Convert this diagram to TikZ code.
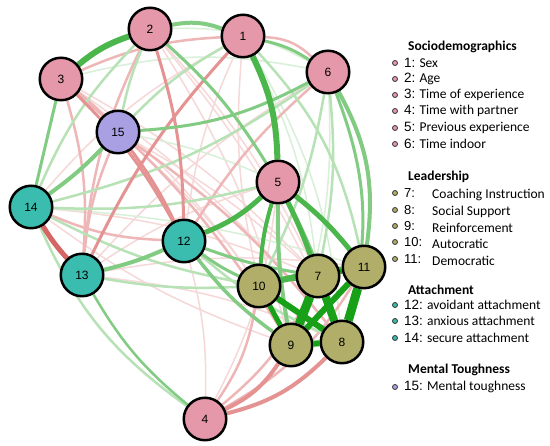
\documentclass[tikz,border=0pt]{standalone}
\usepackage{fontspec}
\setmainfont{Carlito}
\newfontfamily\arialf{Liberation Sans}
\usetikzlibrary{backgrounds}
\definecolor{gA}{RGB}{25,160,25}
\definecolor{gB}{RGB}{75,182,75}
\definecolor{gC}{RGB}{130,203,130}
\definecolor{gD}{RGB}{182,226,182}
\definecolor{gE}{RGB}{216,239,216}
\definecolor{rA}{RGB}{214,102,102}
\definecolor{rB}{RGB}{228,146,146}
\definecolor{rC}{RGB}{238,182,182}
\definecolor{rD}{RGB}{246,216,216}
\definecolor{cpink}{RGB}{229,152,169}
\definecolor{cteal}{RGB}{58,189,175}
\definecolor{colive}{RGB}{176,174,104}
\definecolor{clav}{RGB}{169,160,228}
\begin{document}
\begin{tikzpicture}[x=1pt,y=1pt,
  nd/.style={circle,draw=black,line width=2.5pt,minimum size=42.5pt,inner sep=0pt,font=\arialf\fontsize{12}{12}\selectfont},
  bul/.style={circle,draw=black!80,line width=0.8pt,minimum size=5pt,inner sep=0pt},
  ttl/.style={anchor=west,inner sep=0pt,font=\bfseries\fontsize{13.5}{14}\selectfont},
  num/.style={anchor=west,inner sep=0pt,font=\arialf\fontsize{13}{14}\selectfont},
  itm/.style={anchor=west,inner sep=0pt,font=\fontsize{13.5}{14}\selectfont}]
\useasboundingbox (0,0) rectangle (550,446);
% nodes
\node[nd,fill=cpink] (n1) at (243,410) {1};
\node[nd,fill=cpink] (n2) at (150,417) {2};
\node[nd,fill=cpink] (n3) at (61,367) {3};
\node[nd,fill=cpink] (n4) at (205,27) {4};
\node[nd,fill=cpink] (n5) at (278,264) {5};
\node[nd,fill=cpink] (n6) at (328,374) {6};
\node[nd,fill=colive] (n10) at (259,160) {10};
\node[nd,fill=colive] (n9) at (291,101) {9};
\node[nd,fill=colive] (n8) at (342,104) {8};
\node[nd,fill=colive] (n7) at (318,170) {7};
\node[nd,fill=colive] (n11) at (364,179) {11};
\node[nd,fill=cteal] (n12) at (184,205) {12};
\node[nd,fill=cteal] (n13) at (82,171) {13};
\node[nd,fill=cteal] (n14) at (31,239) {14};
\node[nd,fill=clav] (n15) at (118,314) {15};
\begin{scope}[on background layer]
\fill[white] (0,0) rectangle (550,446);
% very light red
\begin{scope}[rD,line width=1.5pt]
\draw (n4) to[bend right=8] (n12);
\draw (n4) to[bend right=10] (n5);
\draw (n13) to[bend left=8] (n5);
\draw (n13) to[bend left=8] (n8);
\draw (n13) to[bend left=8] (n11);
\draw (n14) to[bend left=8] (n7);
\draw (n14) to[bend right=8] (n9);
\draw (n3) to[bend left=8] (n8);
\draw (n3) to[bend left=8] (n10);
\draw (n3) to[bend left=8] (n7);
\draw (n15) to[bend left=6] (n10);
\draw (n15) to[bend left=6] (n7);
\draw (n2) to[bend left=8] (n7);
\draw (n2) to[bend left=8] (n9);
\draw (n2) to[bend left=8] (n8);
\draw (n1) to[bend right=8] (n10);
\draw (n1) to[bend right=8] (n12);
\draw (n6) to[bend right=8] (n13);
\draw (n1) to[bend right=10] (n14);
\end{scope}
% very light green
\begin{scope}[gE,line width=1.5pt]
\draw (n6) to[bend left=10] (n9);
\draw (n1) to[bend left=12] (n8);
\draw (n1) to[bend left=10] (n7);
\draw (n2) to[bend left=15] (n6);
\draw (n3) to[bend left=12] (n6);
\draw (n14) to[bend left=6] (n11);
\draw (n15) to[bend left=6] (n5);
\end{scope}
% light red
\begin{scope}[rC,line width=2.5pt]
\draw (n2) to[bend right=10] (n13);
\draw (n3) to[bend left=10] (n13);
\draw (n3) to[bend left=8] (n9);
\draw (n15) to[bend right=8] (n13);
\draw (n14) to[bend right=10] (n12);
\draw (n4) to[bend right=12] (n10);
\draw (n4) to[bend right=12] (n7);
\draw (n4) to[bend right=14] (n11);
\draw (n6) to[bend right=8] (n12);
\draw (n1) to[bend right=10] (n3);
\draw (n1) to[bend left=20] (n6);
\draw (n3) to[bend left=5] (n15);
\draw (n15) to[bend left=8] (n8);
\end{scope}
% light green
\begin{scope}[gD,line width=2.5pt]
\draw (n14) to[bend left=10] (n2);
\draw (n14) to[bend right=10] (n6);
\draw (n14) to[bend right=8] (n10);
\draw (n14) to[bend right=8] (n5);
\draw (n14) to[bend right=15] (n4);
\draw (n6) to[bend left=8] (n7);
\draw (n6) to[bend left=8] (n10);
\draw (n12) to[bend right=8] (n8);
\draw (n2) to[bend right=5] (n15);
\draw (n1) to[bend right=8] (n15);
\draw (n1) to[bend left=15] (n11);
\draw (n13) to[bend right=6] (n10);
\end{scope}
% medium red
\begin{scope}[rB,line width=3pt]
\draw (n3) to[bend left=8] (n12);
\draw (n15) to[bend left=5] (n12);
\draw (n2) to[bend left=8] (n12);
\draw (n1) to[bend right=8] (n13);
\draw[line width=4pt] (n4) to[bend right=15] (n9);
\draw[line width=4pt] (n4) to[bend right=15] (n8);
\end{scope}
% medium green
\begin{scope}[gC,line width=3pt]
\draw[line width=4pt] (n2) to[bend left=15] (n1);
\draw (n1) to[bend left=10] (n6);
\draw (n15) to[bend right=12] (n6);
\draw[line width=4pt] (n6) to[bend left=18] (n11);
\draw (n6) to[bend left=18] (n8);
\draw[line width=4pt] (n14) to[bend right=5] (n15);
\draw (n14) to (n3);
\draw[line width=4pt] (n12) to[bend left=5] (n13);
\draw (n12) to[bend right=5] (n10);
\draw (n12) to[bend right=5] (n7);
\draw[line width=3.5pt] (n12) to[bend right=8] (n9);
\draw (n2) to[bend left=8] (n5);
\draw[line width=4pt] (n5) to[bend right=5] (n9);
\draw[line width=4pt] (n5) to[bend left=5] (n8);
\draw[line width=2.5pt] (n13) to[bend right=10] (n4);
\end{scope}
% strong red
\draw[rA,line width=5pt] (n13) to[bend left=5] (n14);
% strong green
\begin{scope}[gB,line width=5pt]
\draw[line width=6pt] (n1) to[bend left=12] (n5);
\draw[line width=6pt] (n2) to[bend right=10] (n3);
\draw (n5) to[bend left=10] (n12);
\draw (n5) to[bend left=3] (n7);
\draw (n5) to[bend left=6] (n11);
\draw[line width=4pt] (n5) to[bend right=6] (n10);
\draw[line width=6pt] (n10) to[bend left=5] (n7);
\draw (n10) to[bend left=5] (n11);
\end{scope}
% strongest green
\begin{scope}[gA,line width=6pt]
\draw[line width=8pt] (n7) to (n8);
\draw[line width=9pt] (n7) to (n9);
\draw[line width=9pt] (n11) to (n8);
\draw (n11) to (n9);
\draw (n9) to (n8);
\draw (n10) to (n8);
\draw[line width=5pt] (n10) to (n9);
\draw[line width=5pt] (n7) to (n11);
\end{scope}
\end{scope}
% legend
\node[ttl] (t1) at (408,399) {Sociodemographics};
\node[bul,fill=cpink] (b1) at (395,383) {};
\node[bul,fill=cpink] (b2) at (395,367) {};
\node[bul,fill=cpink] (b3) at (395,351) {};
\node[bul,fill=cpink] (b4) at (395,335) {};
\node[bul,fill=cpink] (b5) at (395,318) {};
\node[bul,fill=cpink] (b6) at (395,302) {};
\node[itm] (l1) at (404,383) {{\arialf 1:} Sex};
\node[itm] (l2) at (404,367) {{\arialf 2:} Age};
\node[itm] (l3) at (404,351) {{\arialf 3:} Time of experience};
\node[itm] (l4) at (404,335) {{\arialf 4:} Time with partner};
\node[itm] (l5) at (404,318) {{\arialf 5:} Previous experience};
\node[itm] (l6) at (404,302) {{\arialf 6:} Time indoor};
\node[ttl] (t2) at (408,269) {Leadership};
\node[bul,fill=colive] (b7) at (395,253) {};
\node[bul,fill=colive] (b8) at (395,236) {};
\node[bul,fill=colive] (b9) at (395,220) {};
\node[bul,fill=colive] (b10) at (395,204) {};
\node[bul,fill=colive] (b11) at (395,187) {};
\node[num] (m7) at (404,253) {7:};
\node[num] (m8) at (404,236) {8:};
\node[num] (m9) at (404,220) {9:};
\node[num] (m10) at (404,204) {10:};
\node[num] (m11) at (404,187) {11:};
\node[itm] (l7) at (432,251) {Coaching Instruction};
\node[itm] (l8) at (432,234) {Social Support};
\node[itm] (l9) at (432,218) {Reinforcement};
\node[itm] (l10) at (432,202) {Autocratic};
\node[itm] (l11) at (432,185) {Democratic};
\node[ttl] (t3) at (408,156) {Attachment};
\node[bul,fill=cteal] (b12) at (395,141) {};
\node[bul,fill=cteal] (b13) at (395,125) {};
\node[bul,fill=cteal] (b14) at (395,108) {};
\node[itm] (l12) at (404,141) {{\arialf 12:} avoidant attachment};
\node[itm] (l13) at (404,125) {{\arialf 13:} anxious attachment};
\node[itm] (l14) at (404,108) {{\arialf 14:} secure attachment};
\node[ttl] (t4) at (408,76) {Mental Toughness};
\node[bul,fill=clav] (b15) at (395,59) {};
\node[itm] (l15) at (404,59) {{\arialf 15:} Mental toughness};
\end{tikzpicture}
\end{document}
